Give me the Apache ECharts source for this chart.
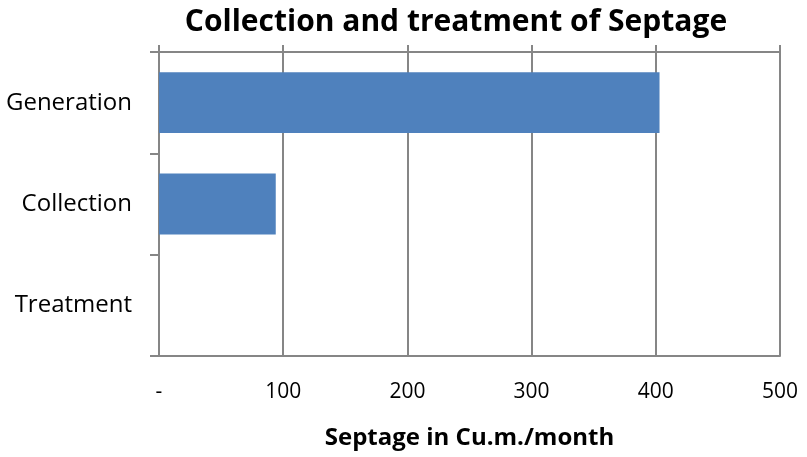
<!DOCTYPE html>
<html><head><meta charset="utf-8">
<script src="https://cdn.jsdelivr.net/npm/echarts@6/dist/echarts.min.js"></script>
<style>html,body{margin:0;padding:0;background:#fff}#c{width:807px;height:457px}</style>
</head><body><div id="c"></div>
<script>
const categories = ['Generation', 'Collection', 'Treatment'];
const values = [403, 94, 0];
const xTicks = [0, 100, 200, 300, 400, 500];
const titleText = 'Collection and treatment of Septage';
const xAxisName = 'Septage in Cu.m./month';

const font = '"Open Sans", "Noto Sans", sans-serif';
const chart = echarts.init(document.getElementById('c'), null, {renderer: 'canvas'});
const gridCol = '#868686';
chart.setOption({
  animation: false,
  title: {text: titleText, left: 451, top: 2, textAlign: 'center',
    textStyle: {fontFamily: font, fontWeight: 'bold', fontSize: 30, color: '#000'}},
  grid: {left: 159, right: 27, top: 52, bottom: 101},
  xAxis: [{
    type: 'value', position: 'bottom', min: xTicks[0], max: xTicks[xTicks.length-1], interval: 100,
    axisLine: {show: true, lineStyle: {color: gridCol, width: 2}},
    axisTick: {show: false},
    splitLine: {show: true, lineStyle: {color: gridCol, width: 2}},
    axisLabel: {margin: 26, fontFamily: font, fontSize: 21, color: '#000',
      formatter: v => v === 0 ? '-' : String(v)},
    name: xAxisName, nameLocation: 'middle', nameGap: 70, nameTextStyle: {fontFamily: font, fontWeight: 'bold', fontSize: 24, color: '#000'}
  }, {
    type: 'value', position: 'top', min: xTicks[0], max: xTicks[xTicks.length-1], interval: 100,
    axisLine: {show: true, lineStyle: {color: gridCol, width: 2}},
    axisTick: {show: true, inside: false, length: 7, lineStyle: {color: gridCol, width: 2}},
    splitLine: {show: false}, axisLabel: {show: false}
  }],
  yAxis: {
    type: 'category', data: categories, inverse: true,
    axisLine: {show: true, lineStyle: {color: gridCol, width: 2}},
    axisTick: {show: true, length: 9, lineStyle: {color: gridCol, width: 2}},
    axisLabel: {margin: 27, fontFamily: font, fontSize: 24, color: '#000'}
  },
  series: [{
    type: 'bar', data: values, xAxisIndex: 0, barCategoryGap: '40%',
    itemStyle: {color: '#4F81BD', borderWidth: 0}
  }]
});
</script></body></html>
